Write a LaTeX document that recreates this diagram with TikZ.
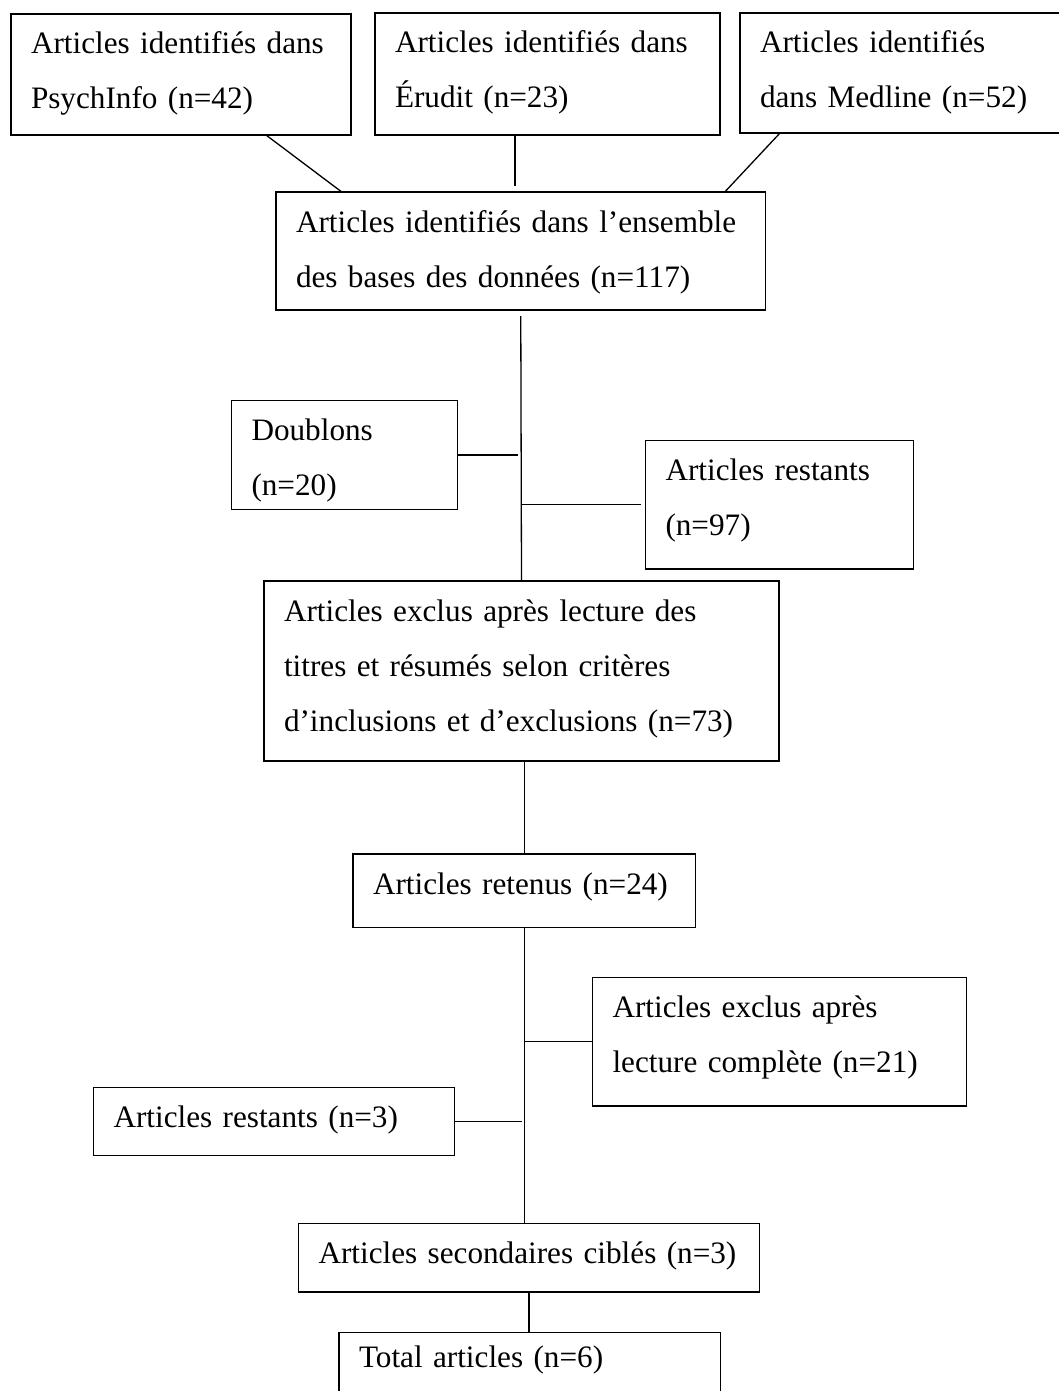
\documentclass[tikz,border=0pt]{standalone}
\usepackage{fontspec}
\setmainfont{Liberation Serif}
\begin{document}
\begin{tikzpicture}
    [x=1pt,y=-1pt,
     stagebox/.style={draw=black,line width=1.6pt,anchor=north west,align=left,
       inner xsep=20pt,inner ysep=0pt,outer sep=0pt,text height=40pt,
       font=\fontsize{31.2}{55}\selectfont},
     link/.style={draw=black,line width=1.3pt}]
    \useasboundingbox (0,0) rectangle (1059,1391);
    \node [stagebox,text width=300pt,text depth=81pt] (psych) at (11,14)
      {Articles identifiés dans\\PsychInfo (n=42)};
    \node [stagebox,text width=305pt,text depth=82pt] (erudit) at (375,13)
      {Articles identifiés dans\\Érudit (n=23)};
    \node [stagebox,text width=290pt,text depth=80pt] (medline) at (740,13)
      {Articles identifiés\\dans Medline (n=52)};
    \node [stagebox,text width=449.5pt,text depth=78pt] (ensemble) at (276,192)
      {Articles identifiés dans l’ensemble\\des bases des données (n=117)};
    \node [stagebox,text width=186pt,text depth=69pt] (doublons) at (231.5,400.5)
      {Doublons\\(n=20)};
    \node [stagebox,text width=228pt,text depth=88.5pt] (restantsA) at (645.5,440.5)
      {Articles restants\\(n=97)};
    \node [stagebox,text width=475pt,text depth=140pt] (exclusA) at (264,581)
      {Articles exclus après lecture des\\titres et résumés selon critères\\d’inclusions et d’exclusions (n=73)};
    \node [stagebox,text width=302.5pt,text depth=33.5pt] (retenus) at (353,854)
      {Articles retenus (n=24)};
    \node [stagebox,text width=334pt,text depth=88.5pt] (exclusB) at (592.5,977.5)
      {Articles exclus après\\lecture complète (n=21)};
    \node [stagebox,text width=321pt,text depth=28pt] (restantsB) at (93.5,1087.5)
      {Articles restants (n=3)};
    \node [stagebox,text width=421pt,text depth=28.5pt] (secondaires) at (298.5,1223.5)
      {Articles secondaires ciblés~(n=3)};
    \node [stagebox,text width=341.5pt,text height=35pt,text depth=35pt] (total) at (339,1332.5)
      {Total articles (n=6)};
    \draw [link] ([xshift=85pt]psych.south) -- ([xshift=-179pt]ensemble.north);
    \draw [link,shorten >=6pt] ([xshift=-32.5pt]erudit.south) -- ([xshift=-32.5pt]erudit.south |- ensemble.north);
    \draw [link] ([xshift=-125pt]medline.south) -- ([xshift=204pt]ensemble.north);
    \draw [link,shorten <=6pt] (ensemble.south) -- (exclusA.north);
    \draw [link,shorten >=3pt] (doublons.east) -- (doublons.east -| ensemble.south);
    \draw [link,shorten >=5pt] (restantsA.west -| ensemble.south) -- (restantsA.west);
    \draw [link] (retenus.north |- exclusA.south) -- (retenus.north);
    \draw [link] (retenus.south) -- (retenus.south |- secondaires.north);
    \draw [link] (exclusB.west -| retenus.south) -- (exclusB.west);
    \draw [link,shorten >=2pt] (restantsB.east) -- (restantsB.east -| retenus.south);
    \draw [link] (secondaires.south) -- (secondaires.south |- total.north);
  \end{tikzpicture}
\end{document}
